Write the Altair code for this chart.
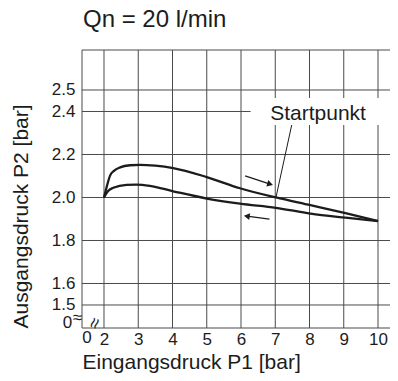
import altair as alt
import pandas as pd

# ---- data ----
upper_x = [2.0, 2.08, 2.18, 2.3, 2.47, 2.76, 3.05, 3.5, 4.02, 5.0, 5.97, 7.02, 8.03, 9.05, 10.0]
upper_y = [2.0, 2.05, 2.103, 2.125, 2.14, 2.15, 2.152, 2.148, 2.137, 2.095, 2.043, 2.0, 1.964, 1.927, 1.89]
lower_x = [2.0, 2.12, 2.27, 2.66, 2.95, 3.34, 4.02, 5.0, 5.97, 7.02, 8.03, 9.05, 10.0]
lower_y = [2.0, 2.03, 2.045, 2.059, 2.06, 2.054, 2.029, 1.995, 1.971, 1.952, 1.925, 1.906, 1.89]

x_ticks = [2, 3, 4, 5, 6, 7, 8, 9, 10]
y_ticks = [1.5, 1.6, 1.8, 2.0, 2.2, 2.4, 2.5]
x_domain = [1.3577, 10.350]
y_domain = [1.393, 2.686]

# annotations
label_text = "Startpunkt"
label_pos = [8.25, 2.36]
label_box_x = [6.28, 10.42]
label_box_y = [2.337, 2.463]
leader_x = [7.02, 7.48]
leader_y = [2.0, 2.337]
arrow_up_x = [6.12, 6.85]
arrow_up_y = [2.10, 2.062]
arrow_dn_x = [6.83, 6.17]
arrow_dn_y = [1.899, 1.913]
break_text = ["0", "≈", "0", "≈"]
break_x = [0.934, 1.226, 1.504, 1.737]
break_y = [1.415, 1.44, 1.345, 1.415]
break_angle = [0, 0, 0, 290]
break_size = [17, 17, 17, 19]

FONT = "Liberation Sans"
INK = "#1c1c1c"
GRID = "#4a4a4a"

xs = alt.Scale(domain=x_domain, nice=False, zero=False)
ys = alt.Scale(domain=y_domain, nice=False, zero=False)

x_axis = alt.Axis(
    values=x_ticks, format="d", title="Eingangsdruck P1 [bar]", grid=False, ticks=False,
    domain=False, labelFont=FONT, labelFontSize=17, labelColor=INK, labelPadding=3,
    titleFont=FONT, titleFontSize=21, titleFontWeight="normal", titleColor=INK,
    titleAnchor="start", titleAlign="left", titleX=0, titleY=40, titleBaseline="alphabetic",
)
y_axis = alt.Axis(
    values=y_ticks, format=".1f", title="Ausgangsdruck P2 [bar]", grid=False, ticks=False,
    domain=False, labelFont=FONT, labelFontSize=17, labelColor=INK, labelPadding=7,
    titleFont=FONT, titleFontSize=21, titleFontWeight="normal", titleColor=INK,
    titleAngle=270, titleAlign="left", titleBaseline="alphabetic", titleX=-55, titleY=278,
)


def X(field="x"):
    return alt.X(f"{field}:Q", scale=xs, axis=x_axis, title="Eingangsdruck P1 [bar]")


def Y(field="y"):
    return alt.Y(f"{field}:Q", scale=ys, axis=y_axis, title="Ausgangsdruck P2 [bar]")


vgrid = alt.Chart(pd.DataFrame({"x": x_ticks + [x_domain[0]]})).mark_rule(
    color=GRID, strokeWidth=1).encode(x=X())
hgrid = alt.Chart(pd.DataFrame({"y": y_ticks + y_domain})).mark_rule(
    color=GRID, strokeWidth=1).encode(y=Y())
box = alt.Chart(pd.DataFrame({"x": [label_box_x[0]], "x2": [label_box_x[1]],
                              "y": [label_box_y[0]], "y2": [label_box_y[1]]})).mark_rect(
    color="white", opacity=1
).encode(x=X(), x2="x2:Q", y=Y(), y2="y2:Q")

curves_df = pd.concat([
    pd.DataFrame({"x": upper_x, "y": upper_y, "series": "steigend"}),
    pd.DataFrame({"x": lower_x, "y": lower_y, "series": "fallend"}),
])
curves = alt.Chart(curves_df).mark_line(color=INK, strokeWidth=2.3, interpolate="monotone").encode(
    x=X(), y=Y(), detail="series:N"
)

leader = alt.Chart(pd.DataFrame({"x": leader_x, "y": leader_y})).mark_line(
    color=INK, strokeWidth=1
).encode(x=X(), y=Y())

arrows_df = pd.concat([
    pd.DataFrame({"x": arrow_up_x, "y": arrow_up_y, "a": "up"}),
    pd.DataFrame({"x": arrow_dn_x, "y": arrow_dn_y, "a": "dn"}),
])
shafts = alt.Chart(arrows_df).mark_line(color=INK, strokeWidth=1.3).encode(
    x=X(), y=Y(), detail="a:N"
)
head_up = alt.Chart(pd.DataFrame({"x": [arrow_up_x[1]], "y": [arrow_up_y[1]]})).mark_point(
    shape="triangle-right", filled=True, color=INK, size=45, angle=17, opacity=1
).encode(x=X(), y=Y())
head_dn = alt.Chart(pd.DataFrame({"x": [arrow_dn_x[1]], "y": [arrow_dn_y[1]]})).mark_point(
    shape="triangle-left", filled=True, color=INK, size=45, angle=8, opacity=1
).encode(x=X(), y=Y())

label = alt.Chart(pd.DataFrame({"x": [label_pos[0]], "y": [label_pos[1]], "t": [label_text]})).mark_text(
    font=FONT, fontSize=21, color=INK, align="center", baseline="alphabetic"
).encode(x=X(), y=Y(), text="t:N")

breaks = alt.Chart(pd.DataFrame({"x": break_x, "y": break_y, "t": break_text,
                                 "ang": break_angle, "fs": break_size})).mark_text(
    font=FONT, color=INK, align="center", baseline="middle", clip=False
).encode(x=X(), y=Y(), text="t:N", angle=alt.Angle("ang:Q", scale=None),
         size=alt.Size("fs:Q", scale=None))

chart = alt.layer(vgrid, hgrid, box, curves, leader, shafts, head_up, head_dn, label, breaks).properties(
    width=308,
    height=278,
    title=alt.TitleParams("Qn = 20 l/min", anchor="start", frame="group", fontSize=24, font=FONT,
                          fontWeight="normal", color=INK, offset=18, dx=1),
    autosize=alt.AutoSizeParams(type="none"),
    padding={"left": 74, "top": 42, "right": 0, "bottom": 45},
).configure_view(strokeWidth=0)

chart.save("out.html", embed_options={"renderer": "svg", "actions": False})
